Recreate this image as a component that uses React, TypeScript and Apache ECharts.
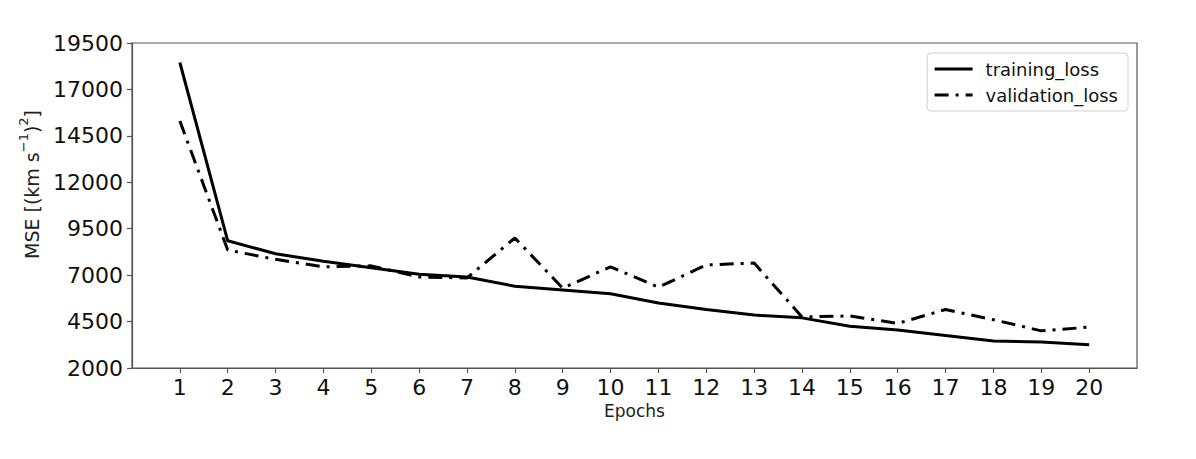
import React, { useEffect, useRef } from "react";
import * as echarts from "echarts";

const epochs = [1, 2, 3, 4, 5, 6, 7, 8, 9, 10, 11, 12, 13, 14, 15, 16, 17, 18, 19, 20];
const trainingLoss = [18450, 8850, 8150, 7750, 7400, 7050, 6900, 6400, 6200, 6000, 5500, 5150, 4850, 4700, 4250, 4050, 3750, 3450, 3400, 3250];
const validationLoss = [15300, 8350, 7850, 7450, 7500, 6900, 6850, 9000, 6300, 7450, 6350, 7550, 7650, 4750, 4800, 4400, 5150, 4600, 4000, 4200];
const yTicks = [2000, 4500, 7000, 9500, 12000, 14500, 17000, 19500];
const xTicks = epochs;

export default function App() {
  const ref = useRef<HTMLDivElement>(null);
  useEffect(() => {
    if (!ref.current) return;
    const chart = echarts.init(ref.current, null, { renderer: "svg" });
    const font = "DejaVu Sans";
    chart.setOption({
      animation: false,
      backgroundColor: "#ffffff",
      textStyle: { fontFamily: font },
      grid: {
        left: 132,
        top: 43,
        right: 59,
        bottom: 91,
        show: true,
        borderColor: "#555",
        borderWidth: 1.2,
        backgroundColor: "transparent",
      },
      legend: {
        orient: "vertical",
        right: 68,
        top: 53,
        padding: [7, 10, 7, 6],
        itemGap: 8,
        itemWidth: 38,
        itemHeight: 14,
        borderColor: "#d0d0d0",
        borderWidth: 1,
        borderRadius: 4,
        itemStyle: { color: "transparent", borderColor: "transparent", borderWidth: 0 },
        lineStyle: { width: 3, color: "#000" },
        textStyle: { fontFamily: font, fontSize: 18, color: "#111", padding: [0, 0, 0, 8] },
        data: ["training_loss", "validation_loss"],
      },
      xAxis: {
        type: "value",
        min: 0,
        max: 21,
        name: "Epochs",
        nameLocation: "middle",
        nameGap: 34,
        nameTextStyle: { fontFamily: font, fontSize: 17, color: "#222" },
        splitLine: { show: false },
        axisLine: { show: true, onZero: false, lineStyle: { color: "#555", width: 1.2 } },
        axisTick: { show: true, length: 5, inside: false, customValues: xTicks, lineStyle: { color: "#555", width: 1.2 } },
        axisLabel: { customValues: xTicks, fontSize: 22, color: "#111", margin: 8, fontFamily: font, formatter: (v: number) => String(v) },
      },
      yAxis: {
        type: "value",
        min: 2000,
        max: 19500,
        name: "{a|MSE [(km s}{s|−1}{a|)}{s|2}{a|]}",
        nameLocation: "middle",
        nameGap: 91,
        nameRotate: 90,
        nameTextStyle: {
          fontFamily: font,
          color: "#222",
          padding: [0, 0, 0, 42],
          rich: {
            a: { fontSize: 19, fontFamily: font, color: "#222", verticalAlign: "bottom", lineHeight: 24 },
            s: { fontSize: 13, fontFamily: font, color: "#222", verticalAlign: "top", lineHeight: 24 },
          },
        },
        splitLine: { show: false },
        axisLine: { show: true, lineStyle: { color: "#555", width: 1.2 } },
        axisTick: { show: true, length: 5, inside: false, customValues: yTicks, lineStyle: { color: "#555", width: 1.2 } },
        axisLabel: { customValues: yTicks, fontSize: 22, color: "#111", margin: 9, fontFamily: font, formatter: (v: number) => String(v) },
      },
      series: [
        {
          name: "training_loss",
          type: "line",
          data: epochs.map((e, i) => [e, trainingLoss[i]]),
          showSymbol: false,
          symbol: "none",
          lineStyle: { color: "#000", width: 3 },
          itemStyle: { color: "#000" },
        },
        {
          name: "validation_loss",
          type: "line",
          data: epochs.map((e, i) => [e, validationLoss[i]]),
          showSymbol: false,
          symbol: "none",
          lineStyle: { color: "#000", width: 3, type: [14, 7, 3, 7] },
          itemStyle: { color: "#000" },
        },
      ],
    });
    return () => chart.dispose();
  }, []);
  return (
    <div
      ref={ref}
      style={{ position: "fixed", left: 0, top: 0, width: 1196, height: 459, background: "#fff" }}
    />
  );
}
